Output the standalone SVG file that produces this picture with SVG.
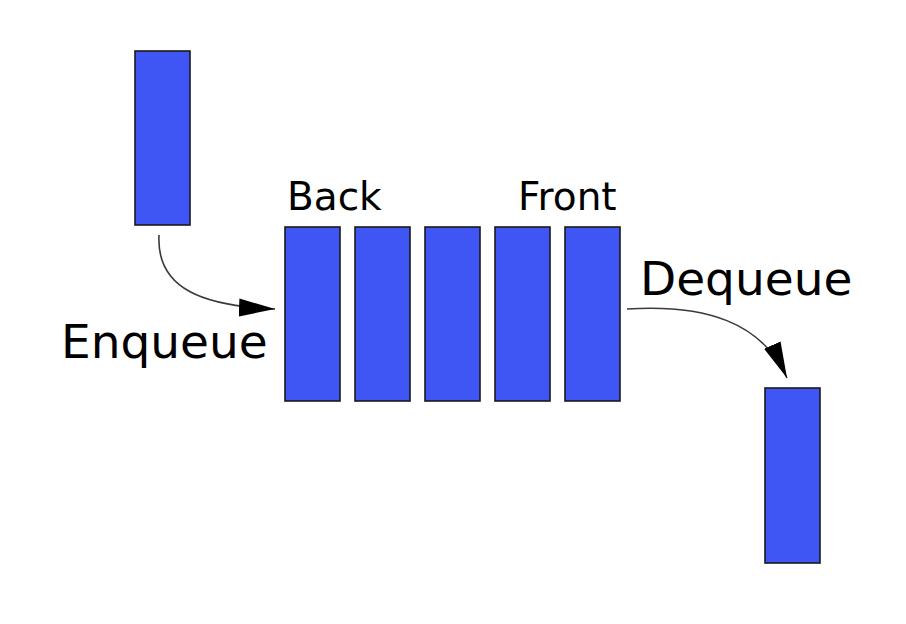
<svg xmlns="http://www.w3.org/2000/svg" width="906" height="624" viewBox="0 0 906 624">
<style>
.box{fill:#3f55f4;stroke:#1a1a1a;stroke-width:1.6}
.lbl{font-family:"DejaVu Sans",sans-serif;fill:#000}
.conn{fill:none;stroke:#3a3a3a;stroke-width:1.6}
</style>
<defs>
<marker id="ah" viewBox="0 0 20 10" refX="20" refY="5" markerWidth="36" markerHeight="19" markerUnits="userSpaceOnUse" orient="auto">
<path d="M0,0 L20,5 L0,10 z" fill="#000"/>
</marker>
</defs>
<rect width="906" height="624" fill="#fff"/>
<g id="incoming"><rect class="box" x="135" y="51" width="55" height="174"/></g>
<g id="q1"><rect class="box" x="285" y="227" width="55" height="174"/></g>
<g id="q2"><rect class="box" x="355" y="227" width="55" height="174"/></g>
<g id="q3"><rect class="box" x="425" y="227" width="55" height="174"/></g>
<g id="q4"><rect class="box" x="495" y="227" width="55" height="174"/></g>
<g id="q5"><rect class="box" x="565" y="227" width="55" height="174"/></g>
<g id="outgoing"><rect class="box" x="765" y="388" width="55" height="175"/></g>
<g id="connectors">
<path class="conn" d="M159,235 C156,290 205,306 275,309" marker-end="url(#ah)"/>
<path class="conn" d="M627,309 C705,304 762,322 787,378" marker-end="url(#ah)"/>
</g>
<g id="labels">
<text class="lbl" x="287" y="210" font-size="39">Back</text>
<text class="lbl" x="518" y="210" font-size="39">Front</text>
<text class="lbl" x="640" y="295" font-size="47">Dequeue</text>
<text class="lbl" x="61" y="358" font-size="47">Enqueue</text>
</g>
</svg>
